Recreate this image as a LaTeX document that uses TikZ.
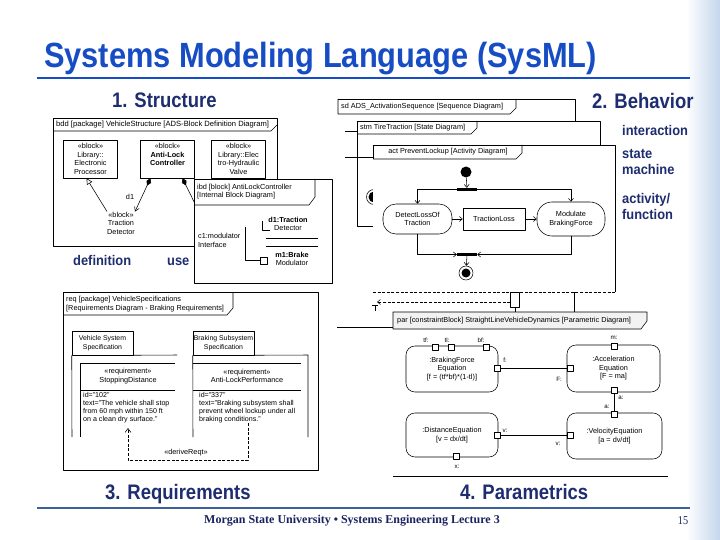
\documentclass[tikz,border=0pt]{standalone}
\usepackage{fontspec}
\setmainfont{Liberation Sans}
\newfontfamily\footfont{Liberation Serif}
\usetikzlibrary{arrows.meta}
\definecolor{titleblue}{RGB}{22,76,196}
\definecolor{navy}{RGB}{30,45,112}
\definecolor{footnavy}{RGB}{25,35,95}
\definecolor{footblue}{RGB}{62,98,152}
\definecolor{decoblue}{RGB}{196,214,236}
\definecolor{hdrfill}{RGB}{242,242,242}
\begin{document}
\begin{tikzpicture}[x=1pt,y=-1pt,line join=round,
  fr/.style={line width=0.55pt},
  dtxt/.style={font=\fontsize{7.3}{8.6}\selectfont, inner sep=0pt, align=center},
  head/.style={anchor=base west, inner sep=0pt, text=navy, font=\fontsize{21}{24}\selectfont\bfseries},
  sub/.style={anchor=base west, inner sep=0pt, text=navy, font=\fontsize{14}{16}\selectfont\bfseries},
  blk/.style={dtxt, draw, fr, minimum width=54pt, minimum height=38pt},
  actn/.style={dtxt, draw, fr, rounded corners=13pt},
  cb/.style={dtxt, draw, fr, rounded corners=9pt},
  pt/.style={draw, fr, fill=white, minimum size=6pt, inner sep=0pt},
  plab/.style={inner sep=0pt, font=\fontsize{6.2}{7}\selectfont},
  ctl/.style={fr, -{Straight Barb[length=3pt, width=5pt]}},
  dsh/.style={dash pattern=on 3pt off 1.6pt}
]
\path[fill=white, use as bounding box] (0,0) rectangle (720,540);
\shade[left color=white, right color=decoblue] (686,0) rectangle (720,540);

% ---------- title and headings
\node[anchor=base west, inner sep=0pt, text=titleblue, font=\fontsize{35}{40}\selectfont\bfseries] (title) at (44,68) {\scalebox{0.88}[1]{Systems Modeling Language (SysML)}};
\draw[titleblue, line width=2pt] (37,78) -- (690,78);
\node[head] (h1) at (112,108) {\scalebox{0.88}[1]{1. Structure}};
\node[head] (h2) at (592,109) {\scalebox{0.88}[1]{2. Behavior}};
\node[head] (h3) at (105,499) {\scalebox{0.88}[1]{3. Requirements}};
\node[head] (h4) at (460,499) {\scalebox{0.88}[1]{4. Parametrics}};
\node[sub] (ldef) at (73,265) {\scalebox{0.92}[1]{definition}};
\node[sub] (luse) at (167,265) {\scalebox{0.92}[1]{use}};
\node[sub] (linter) at (622,136) {\scalebox{0.92}[1]{interaction}};
\node[sub] (lstate) at (622,159) {\scalebox{0.92}[1]{state}};
\node[sub] (lmach) at (622,175) {\scalebox{0.92}[1]{machine}};
\node[sub] (lact) at (622,204) {\scalebox{0.92}[1]{activity/}};
\node[sub] (lfun) at (622,220) {\scalebox{0.92}[1]{function}};
\draw[footblue, line width=2.5pt] (37,508) -- (690,508);
\node[inner sep=0pt, text=footnavy, font=\footfont\fontsize{12}{14}\selectfont\bfseries] (foot) at (352,521) {Morgan State University • Systems Engineering Lecture 3};
\node[inner sep=0pt, text=footnavy, font=\footfont\fontsize{12}{14}\selectfont] (pg) at (683,521) {\scalebox{0.85}[1]{15}};

% ---------- 1. structure: bdd
\draw[fr] (53,118) rectangle (277,246);
\draw[fr] (53,131) -- (271,131) -- (277,125);
\node[dtxt, anchor=west, font=\fontsize{7.6}{8.6}\selectfont] (bddh) at (56,124.5) {bdd [package] VehicleStructure [ADS-Block Definition Diagram]};
\node[blk] (ep) at (90.5,159) {«block»\\Library::\\Electronic\\Processor};
\node[blk] (alc) at (167.5,159) {«block»\\\textbf{Anti-Lock}\\\textbf{Controller}\\~};
\node[blk] (ehv) at (238.5,159) {«block»\\Library::Elec\\tro-Hydraulic\\Valve};
\node[dtxt] (td) at (121,223) {«block»\\Traction\\Detector};
\draw[fr, -{Triangle[open, length=6pt, width=6pt]}] (td.north west) -- ([xshift=-4pt]ep.south);
\draw[fr, {Diamond[fill=black, length=8pt, width=5pt]}-{Straight Barb[length=4pt, width=5pt]}] ([xshift=-17pt]alc.south) -- (td.north east);
\node[dtxt] (d1lab) at (130,197) {d1};
\coordinate (hid) at (202,218);
\draw[fr, {Diamond[fill=black, length=8pt, width=5pt]}-] ([xshift=15pt]alc.south) -- (hid);

% ---------- ibd
\draw[fr, fill=white] (194,179) rectangle (332,283);
\draw[fr] (194,205) -- (309,205) -- (315,197) -- (315,179);
\node[dtxt, anchor=west, align=left] (ibdh) at (197,191.5) {ibd [block] AntiLockController\\{}[Internal Block Diagram]};
\node[dtxt, anchor=west, align=left] (c1) at (198,240.5) {c1:modulator\\Interface};
\node[dtxt] (d1p) at (288,224) {\textbf{d1:Traction}\\Detector};
\draw[fr] (266,238) -- (318,238);
\draw[fr] (266,246) -- (318,246);
\draw[fr] (262,221) -- (262,230) -- (270,230);
\node[dtxt] (m1p) at (292,259) {\textbf{m1:Brake}\\Modulator};
\node[pt, minimum size=7pt] (m1port) at (264,260.5) {};
\coordinate (c1top) at (245,227);
\draw[fr] (c1top) |- (m1port.west);

% ---------- 2. behavior: sd / stm
\draw[fr] (338,99) -- (575,99) -- (575,121);
\draw[fr] (338,99) -- (338,114) -- (510,114) -- (516,108) -- (516,99);
\node[dtxt, anchor=west] (sdh) at (341,106.5) {sd ADS\_ActivationSequence [Sequence Diagram]};
\draw[fr] (357,121) -- (600,121) -- (600,145);
\draw[fr] (357,121) -- (357,226) -- (380,226);
\draw[fr] (357,134) -- (471,134) -- (477,128) -- (477,121);
\node[dtxt, anchor=west] (stmh) at (360,127.5) {stm TireTraction [State Diagram]};
\draw[fr] (345,131) -- (357,131);
\draw[fr] (345,157) -- (380,157);
\node[circle, draw, fr, minimum size=15pt, inner sep=0pt] (stmfin) at (374,197) {};
\node[circle, fill=black, minimum size=11pt, inner sep=0pt] (stmcore) at (stmfin) {};

% ---------- act
\fill[white] (373,145) rectangle (615,292);
\draw[fr] (373,159) -- (373,145) -- (615,145) -- (615,292);
\draw[fr] (373,159) -- (516,159) -- (522,153) -- (522,145);
\node[dtxt] (acth) at (448,152) {act PreventLockup [Activity Diagram]};
\draw[fr, dsh] (373,292) -- (615,292);
\node[fill=black, circle, minimum size=11pt, inner sep=0pt] (init) at (466,172) {};
\node[fill=black, minimum width=20pt, minimum height=3pt, inner sep=0pt] (fork) at (467,189.5) {};
\node[actn, minimum width=69pt, minimum height=30pt] (dlt) at (417.5,219) {DetectLossOf\\Traction};
\node[dtxt, draw, fr, minimum width=62pt, minimum height=22pt] (tl) at (494,219) {TractionLoss};
\node[actn, minimum width=68pt, minimum height=34pt, rounded corners=15pt] (mbf) at (571,219) {Modulate\\BrakingForce};
\node[fill=black, minimum width=20pt, minimum height=3pt, inner sep=0pt] (join) at (467,254.5) {};
\node[circle, draw, fr, fill=white, minimum size=14pt, inner sep=0pt] (fin) at (466,273) {};
\node[circle, fill=black, minimum size=9pt, inner sep=0pt] (fincore) at (fin) {};
\draw[ctl] (init) -- (fork);
\draw[ctl] (fork.west) -| (dlt.north);
\draw[ctl] (fork.east) -| (mbf.north);
\draw[ctl] (dlt.east) -- (tl.west);
\draw[ctl] (tl.east) -- (mbf.west);
\draw[ctl] (dlt.south) |- (join.west);
\draw[ctl] (mbf.south) |- (join.east);
\draw[ctl] (join) -- (fin);

% ---------- sequence leftovers
\node[draw, fr, fill=white, minimum width=9pt, minimum height=15pt, inner sep=0pt] (abox) at (515,300) {};
\coordinate (retend) at (377,302);
\draw[fr, dsh, -{Straight Barb[length=3pt, width=5pt]}] (abox.west |- retend) -- (retend);
\draw[fr] (abox.south) -- (515,312);
\draw[fr] (574,292) -- (574,312);
\draw[fr] (372,305) -- (378,305) (375,305) -- (375,311);

% ---------- 3. requirements
\draw[fr] (63,292) rectangle (318,470);
\draw[fr] (63,315) -- (227,315) -- (233,308) -- (233,292);
\node[dtxt, anchor=west, align=left] (reqh) at (66,304) {req [package] VehicleSpecifications\\{}[Requirements Diagram - Braking Requirements]};
\node[dtxt, draw, fr, minimum width=61pt, minimum height=24pt, font=\fontsize{6.9}{8.6}\selectfont] (vss) at (102.5,343) {Vehicle System\\Specification};
\draw[fr] (vss.south east) -- (177,355);
\draw[fr] (vss.south west) -- (72,437);
\node[dtxt, draw, fr, minimum width=61pt, minimum height=24pt, font=\fontsize{6.9}{8.6}\selectfont] (bss) at (223.5,343) {Braking Subsystem\\Specification};
\draw[fr] (bss.south east) -- (308,355) -- (308,437);
\draw[fr] (bss.south west) -- (193,437);
\draw[fr] (80,437) -- (80,363) -- (175,363);
\draw[fr] (80,390) -- (175,390);
\node[dtxt] (sdn) at (128,376) {«requirement»\\StoppingDistance};
\node[dtxt, anchor=north west, align=left, font=\fontsize{7.1}{8.2}\selectfont] (sda) at (83,392) {id="102"\\text="The vehicle shall stop\\from 60 mph within 150 ft\\on a clean dry surface."};
\draw[fr] (193,363) -- (301,363);
\draw[fr] (193,390) -- (301,390);
\node[dtxt] (alpn) at (247,376) {«requirement»\\Anti-LockPerformance};
\node[dtxt, anchor=north west, align=left, font=\fontsize{7.1}{8.2}\selectfont] (alpa) at (199,392) {id="337"\\text="Braking subsystem shall\\prevent wheel lockup under all\\braking conditions."};
\coordinate (dstart) at (248,423);
\coordinate (dend) at (128,428);
\draw[fr, dsh, -{Straight Barb[length=4pt, width=6pt]}] (dstart) -- ++(0,37) -| (dend);
\node[dtxt, fill=white, inner sep=1pt] (drl) at (186,453) {«deriveReqt»};

% ---------- 4. parametrics
\draw[fr] (337,327) -- (393,327);
\draw[fr, fill=hdrfill] (393,312) -- (647,312) -- (647,321) -- (641,329) -- (393,329) -- cycle;
\node[dtxt, anchor=west] (parh) at (397,320.5) {par [constraintBlock] StraightLineVehicleDynamics [Parametric Diagram]};
\draw[fr] (393,476) -- (668,476);
\node[cb, minimum width=92pt, minimum height=46pt] (bfe) at (452,369) {:BrakingForce\\Equation\\{}[f = (tf*bf)*(1-tl)]};
\node[cb, minimum width=93pt, minimum height=47pt] (ace) at (613.5,368.5) {:Acceleration\\Equation\\{}[F = ma]};
\node[cb, minimum width=92pt, minimum height=44pt] (dse) at (452,435) {:DistanceEquation\\{}[v = dx/dt]};
\node[cb, minimum width=95pt, minimum height=46pt] (vle) at (614.5,436) {:VelocityEquation\\{}[a = dv/dt]};
\node[pt] (ptf) at (435,347.5) {};
\node[pt] (ptl) at (451.5,347.5) {};
\node[pt] (pbf) at (486,347.5) {};
\node[plab] (ltf) at (426,340) {tf:};
\node[plab] (ltl) at (447,340) {tl:};
\node[plab] (lbf) at (481,340) {bf:};
\node[pt] (pf) at (497,368) {};
\node[plab] (lf) at (505,360) {f:};
\node[pt] (pF) at (570,368) {};
\node[plab] (lF) at (559,379) {F:};
\node[pt] (pm) at (614,346.5) {};
\node[plab] (lm) at (614,338) {m:};
\node[pt] (pa1) at (614,390) {};
\node[plab] (la1) at (621,398) {a:};
\node[pt] (pa2) at (614,414) {};
\node[plab] (la2) at (607,407) {a:};
\node[pt] (pv1) at (497,435) {};
\node[plab] (lv1) at (505,431) {v:};
\node[pt] (pv2) at (570,435) {};
\node[plab] (lv2) at (558,444) {v:};
\node[pt] (px) at (456,456.5) {};
\node[plab] (lx) at (457,467) {x:};
\draw[fr] (pf) -- (pF);
\draw[fr] (pa1) -- (pa2);
\draw[fr] (pv1) -- (pv2);
\end{tikzpicture}
\end{document}
